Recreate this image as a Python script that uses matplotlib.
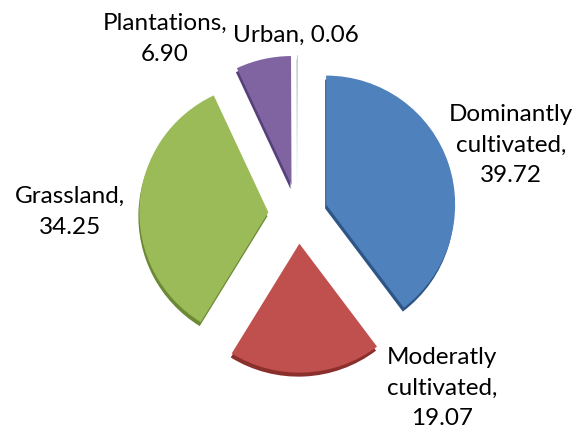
import matplotlib
matplotlib.use("Agg")
import matplotlib.pyplot as plt

categories = ["Dominantly\ncultivated,", "Moderatly\ncultivated,", "Grassland,",
              "Plantations,", "Urban, "]
values = [39.72, 19.07, 34.25, 6.90, 0.06]
colors = ["#4F81BD", "#C0504D", "#9BBB59", "#8064A2", "#4BACC6"]
shadows = ["#2F5586", "#8A2F2C", "#6C8A35", "#56407A", "#9fb8c0"]

# label anchor positions in pixel space (layout only)
label_pos = [(511, 293), (442, 50), (70, 226), (165, 399), (296, 403)]

W, H = 578, 438
fig = plt.figure(figsize=(W / 100, H / 100), dpi=100)
ax = fig.add_axes([0, 0, 1, 1])
ax.set_xlim(0, W)
ax.set_ylim(0, H)
ax.set_aspect("equal")
ax.axis("off")

center = (298, 224)
radius = 129
# matplotlib's explode is an absolute offset, so scale by radius
explode = [0.23 * radius] * len(values)

# darker copy slightly lower gives the 3-D rim
ax.pie(values, colors=shadows, explode=explode, startangle=90, counterclock=False,
       center=(center[0] - 1, center[1] - 4), radius=radius,
       wedgeprops=dict(linewidth=0))
ax.pie(values, colors=colors, explode=explode, startangle=90, counterclock=False,
       center=center, radius=radius,
       wedgeprops=dict(linewidth=0))
ax.set_xlim(0, W)
ax.set_ylim(0, H)

for (x, y), name, v in zip(label_pos, categories, values):
    if name.startswith("Urban"):
        txt = f"{name}{v:.2f}"
    else:
        txt = f"{name}\n{v:.2f}"
    ax.text(x, y, txt, ha="center", va="center", fontsize=17.5,
            family=["Lato", "DejaVu Sans"], color="black", linespacing=1.55)

fig.savefig("out.png", dpi=100)
